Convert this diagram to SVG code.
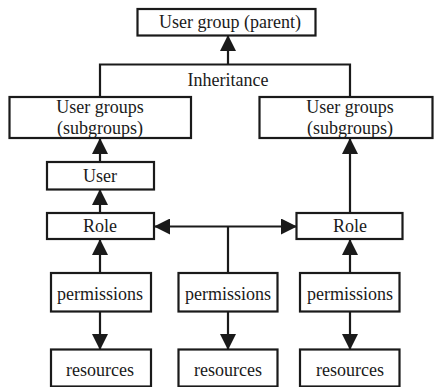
<svg xmlns="http://www.w3.org/2000/svg" width="434" height="387" viewBox="0 0 434 387">
<defs>
<style>
rect{fill:#fff;stroke:#1a1a1a;stroke-width:2.2}
text{font-family:"Liberation Serif","Times New Roman",serif;font-size:18px;fill:#1a1a1a;text-anchor:middle}
.c line,.c polyline{stroke:#1a1a1a;stroke-width:2.2;fill:none}
</style>
<marker id="ah" viewBox="0 0 16 16" markerWidth="16" markerHeight="16" markerUnits="userSpaceOnUse" refX="15" refY="8" orient="auto">
<path d="M0,0 L16,8 L0,16 z" fill="#1a1a1a"/>
</marker>
</defs>
<g class="c" id="connectors">
<polyline points="100,97 100,64.5 350,64.5 350,97"/>
<line x1="228" y1="64.5" x2="228" y2="36" marker-end="url(#ah)"/>
<line x1="100" y1="162" x2="100" y2="139" marker-end="url(#ah)"/>
<line x1="100" y1="213" x2="100" y2="190" marker-end="url(#ah)"/>
<line x1="350" y1="213" x2="350" y2="139" marker-end="url(#ah)"/>
<line x1="228" y1="226.5" x2="155" y2="226.5" marker-end="url(#ah)"/>
<line x1="228" y1="226.5" x2="296" y2="226.5" marker-end="url(#ah)"/>
<line x1="228" y1="226.5" x2="228" y2="273"/>
<line x1="100" y1="273" x2="100" y2="240" marker-end="url(#ah)"/>
<line x1="350" y1="273" x2="350" y2="240" marker-end="url(#ah)"/>
<line x1="100" y1="312" x2="100" y2="349" marker-end="url(#ah)"/>
<line x1="228" y1="312" x2="228" y2="349" marker-end="url(#ah)"/>
<line x1="350" y1="312" x2="350" y2="349" marker-end="url(#ah)"/>
<text x="228" y="86">Inheritance</text>
</g>
<g id="parent"><rect x="137.5" y="9" width="178" height="26.5"/><text x="230" y="28">User group (parent)</text></g>
<g id="subgroups-left"><rect x="9.5" y="97" width="181.5" height="41"/><text x="100" y="113">User groups</text><text x="100" y="134">(subgroups)</text></g>
<g id="subgroups-right"><rect x="259.5" y="97" width="173" height="41"/><text x="350" y="113">User groups</text><text x="350" y="134">(subgroups)</text></g>
<g id="user"><rect x="47" y="162" width="107" height="27.5"/><text x="100" y="182">User</text></g>
<g id="role-left"><rect x="47" y="213" width="107" height="26"/><text x="100" y="232">Role</text></g>
<g id="role-right"><rect x="296.5" y="213" width="106" height="26"/><text x="350" y="232">Role</text></g>
<g id="perm-left"><rect x="51" y="273" width="100" height="38.5"/><text x="100" y="300">permissions</text></g>
<g id="perm-mid"><rect x="178.5" y="273" width="99" height="38.5"/><text x="228" y="300">permissions</text></g>
<g id="perm-right"><rect x="300" y="273" width="99.5" height="38.5"/><text x="350" y="300">permissions</text></g>
<g id="res-left"><rect x="51" y="349.5" width="100" height="37"/><text x="100" y="376">resources</text></g>
<g id="res-mid"><rect x="178.5" y="349.5" width="99" height="37"/><text x="228" y="376">resources</text></g>
<g id="res-right"><rect x="300" y="349.5" width="99.5" height="37"/><text x="350" y="376">resources</text></g>
</svg>
